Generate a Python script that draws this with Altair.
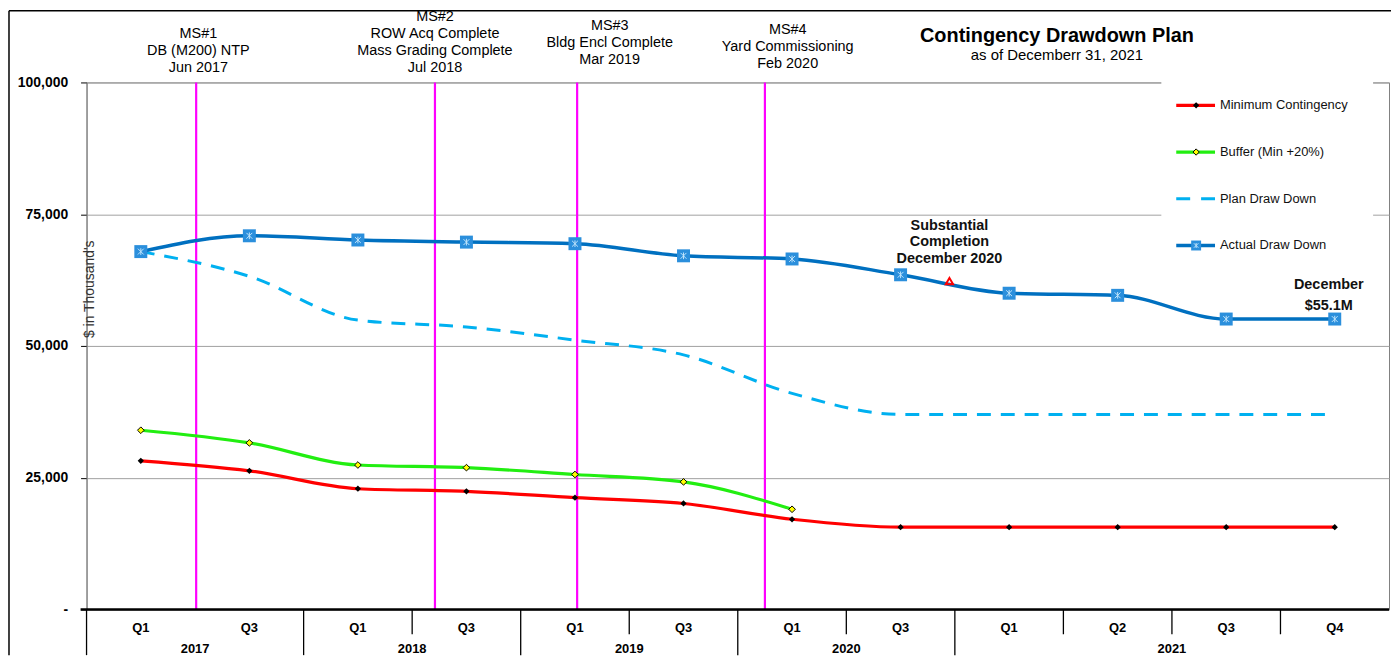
import altair as alt
import pandas as pd

FONT = "Liberation Sans"

# ---------------- data ----------------
quarters = ["Q1", "Q3", "Q1", "Q3", "Q1", "Q3", "Q1", "Q3", "Q1", "Q2", "Q3", "Q4"]
years = ["2017", "2017", "2018", "2018", "2019", "2019", "2020", "2020",
         "2021", "2021", "2021", "2021"]
actual = [67900, 70900, 70100, 69700, 69400, 67100, 66500, 63500, 60000, 59600, 55100, 55100]
plan = [67900, 63200, 54900, 53600, 51100, 48300, 41000, 37000, 37000, 37000, 37000, 37000]
minimum = [28200, 26300, 22900, 22400, 21200, 20100, 17100, 15600, 15600, 15600, 15600, 15600]
buffer = [34000, 31600, 27400, 26900, 25600, 24200, 19000, None, None, None, None, None]

milestone_labels = [
    "MS#1\nDB (M200) NTP\nJun 2017",
    "MS#2\nROW Acq Complete\nMass Grading Complete\nJul 2018",
    "MS#3\nBldg Encl Complete\nMar 2019",
    "MS#4\nYard Commissioning\nFeb 2020",
]
milestone_x = [0.51, 2.71, 4.02, 5.75]       # date of milestone on the quarter axis
milestone_text_x = [0.53, 2.71, 4.32, 5.96]
milestone_text_y = [-56, -73, -64, -60]

legend_labels = ["Minimum Contingency", "Buffer (Min +20%)", "Plan Draw Down", "Actual Draw Down"]

title = "Contingency Drawdown Plan"
subtitle = "as of Decemberr 31, 2021"
sc_label = "Substantial\nCompletion\nDecember  2020"
sc_x = 7.45
sc_value = 62300
end_label = "December\n$55.1M"

# ---------------- frames ----------------
n = len(quarters)
df = pd.DataFrame({
    "i": list(range(n)),
    "quarter": quarters,
    "year": years,
    "actual": actual,
    "plan": plan,
    "minimum": minimum,
    "buffer": buffer,
})

groups = []
for i, y in enumerate(years):
    if not groups or groups[-1]["year"] != y:
        groups.append({"year": y, "start": i, "end": i})
    else:
        groups[-1]["end"] = i
year_df = pd.DataFrame({
    "year": [g["year"] for g in groups],
    "center": [(g["start"] + g["end"]) / 2 for g in groups],
    "left": [g["start"] - 0.5 for g in groups],
})
qdiv = [i + 0.5 for i in range(n - 1)
        if years[i] == years[i + 1] and years[i] != "2017"]
qdiv_df = pd.DataFrame({"x": qdiv})

ms_df = pd.DataFrame({
    "label": milestone_labels,
    "x": milestone_x,
    "tx": milestone_text_x,
    "ty": milestone_text_y,
})
leg_df = pd.DataFrame({"label": legend_labels, "k": list(range(len(legend_labels)))})

W, H = 1310, 530
xs = alt.Scale(domain=[-0.5, n - 0.5], nice=False, zero=False)
ys = alt.Scale(domain=[0, 100000], nice=False)
YAX = alt.Axis(
    values=[0, 25000, 50000, 75000, 100000],
    labelExpr="datum.value == 0 ? '-' : format(datum.value, ',')",
    labelFont=FONT, labelFontSize=14, labelFontWeight="bold", labelColor="black",
    tickColor="black", tickSize=6, labelPadding=13,
    domainColor="#808080", gridColor="#a0a0a0", grid=True, title=None,
)


def X(f):
    return alt.X(f, type="quantitative", scale=xs, axis=None)


def Y(f):
    return alt.Y(f, type="quantitative", scale=ys, axis=YAX)


base = alt.Chart(df)

# milestone rules
ms_rules = alt.Chart(ms_df).mark_rule(color="#ff00ff", strokeWidth=2.2).encode(
    x=X("x"), y=alt.value(0), y2=alt.value(H)
)
ms_text = alt.Chart(ms_df).mark_text(
    font=FONT, fontSize=14.5, lineHeight=17, baseline="top", align="center",
    lineBreak="\n", color="black"
).encode(x=X("tx"), y=alt.Y("ty:Q", scale=None), text="label:N")

# series
plan_line = base.mark_line(color="#00b0f0", strokeWidth=3, strokeDash=[14, 10],
                           interpolate="monotone").encode(x=X("i"), y=Y("plan"))
min_line = base.mark_line(color="#ff0000", strokeWidth=3.2,
                          interpolate="monotone").encode(x=X("i"), y=Y("minimum"))
min_pts = base.mark_point(shape="diamond", filled=True, color="black", size=40,
                          opacity=1).encode(x=X("i"), y=Y("minimum"))
buf_base = base.transform_filter("isValid(datum.buffer)")
buf_line = buf_base.mark_line(color="#22ee11", strokeWidth=3.2,
                              interpolate="monotone").encode(x=X("i"), y=Y("buffer"))
buf_pts = buf_base.mark_point(shape="diamond", filled=True, fill="#ffff00", stroke="black",
                              strokeWidth=1, size=45, opacity=1).encode(x=X("i"), y=Y("buffer"))
act_line = base.mark_line(color="#0070c0", strokeWidth=3.5,
                          interpolate="monotone").encode(x=X("i"), y=Y("actual"))
act_pts = base.mark_point(shape="square", filled=True, color="#2b8fdc", size=170,
                          opacity=1).encode(x=X("i"), y=Y("actual"))
XGLYPH = "M-0.7,-0.7L0.7,0.7M0.7,-0.7L-0.7,0.7M0,-0.8L0,0.8"
act_glyph = base.mark_point(shape=XGLYPH, filled=False, stroke="#bfe4fb", strokeWidth=1,
                            size=70, opacity=1).encode(x=X("i"), y=Y("actual"))

# bottom axis: black base line, dividers and labels
base_line = base.mark_rule(color="black", strokeWidth=2.5).encode(
    x=alt.value(-6), x2=alt.value(W), y=alt.value(H)
).transform_filter("datum.i == 0")
year_rules = alt.Chart(year_df).mark_rule(color="black", strokeWidth=1.3).encode(
    x=X("left"), y=alt.value(H), y2=alt.value(H + 46)
)
q_rules = alt.Chart(qdiv_df).mark_rule(color="black", strokeWidth=1.3).encode(
    x=X("x"), y=alt.value(H), y2=alt.value(H + 25)
)
q_text = base.mark_text(font=FONT, fontSize=13, fontWeight="bold", color="black",
                        baseline="middle").encode(
    x=X("i"), y=alt.value(H + 19), text="quarter:N"
)
y_text = alt.Chart(year_df).mark_text(font=FONT, fontSize=13, fontWeight="bold", color="black",
                                      baseline="middle").encode(
    x=X("center"), y=alt.value(H + 40), text="year:N"
)

# titles and annotations
title_df = pd.DataFrame({"t": [title], "s": [subtitle]})
title_text = alt.Chart(title_df).mark_text(font=FONT, fontSize=20, fontWeight="bold",
                                           color="black", baseline="middle").encode(
    x=alt.value(976), y=alt.value(-47), text="t:N"
)
sub_text = alt.Chart(title_df).mark_text(font=FONT, fontSize=15, color="black",
                                         baseline="middle").encode(
    x=alt.value(976), y=alt.value(-28), text="s:N"
)
ytitle_text = alt.Chart(pd.DataFrame({"t": ["$ in Thousand's"]})).mark_text(
    font=FONT, fontSize=14, color="#333333", angle=270, baseline="middle"
).encode(x=alt.value(4), y=alt.value(208), text="t:N")

ann_df = pd.DataFrame({"x": [sc_x], "v": [sc_value], "t": [sc_label]})
sc_text = alt.Chart(ann_df).mark_text(font=FONT, fontSize=14.5, fontWeight="bold",
                                      lineHeight=17, lineBreak="\n", color="#111111",
                                      baseline="top").encode(
    x=X("x"), y=alt.value(137), text="t:N"
)
sc_tri = alt.Chart(ann_df).mark_point(shape="triangle-up", filled=False, stroke="#ff0000",
                                      strokeWidth=2, size=55, opacity=1).encode(
    x=X("x"), y=Y("v")
)
end_df = pd.DataFrame({"x": [n - 1], "t": [end_label]})
end_text = alt.Chart(end_df).mark_text(font=FONT, fontSize=14.5, fontWeight="bold",
                                       lineHeight=21, lineBreak="\n", color="#111111",
                                       baseline="top", dx=-6).encode(
    x=X("x"), y=alt.value(197), text="t:N"
)

# legend (drawn by hand in a white box)
leg = alt.Chart(leg_df).transform_calculate(ly="23 + datum.k * 47")
leg_box = alt.Chart(title_df).mark_rect(color="white").encode(
    x=alt.value(1081), x2=alt.value(1294), y=alt.value(-1), y2=alt.value(186)
)
LY = alt.Y("ly:Q", scale=None)
leg_min = leg.transform_filter("datum.k == 0").mark_rule(color="#ff0000", strokeWidth=3.2).encode(
    x=alt.value(1096), x2=alt.value(1135), y=LY)
leg_min_pt = leg.transform_filter("datum.k == 0").mark_point(
    shape="diamond", filled=True, color="black", size=40, opacity=1).encode(x=alt.value(1116), y=LY)
leg_buf = leg.transform_filter("datum.k == 1").mark_rule(color="#22ee11", strokeWidth=3.2).encode(
    x=alt.value(1096), x2=alt.value(1135), y=LY)
leg_buf_pt = leg.transform_filter("datum.k == 1").mark_point(
    shape="diamond", filled=True, fill="#ffff00", stroke="black", strokeWidth=1, size=40,
    opacity=1).encode(x=alt.value(1116), y=LY)
leg_plan = leg.transform_filter("datum.k == 2").mark_rule(
    color="#00b0f0", strokeWidth=3.2, strokeDash=[14, 11]).encode(
    x=alt.value(1096), x2=alt.value(1135), y=LY)
leg_act = leg.transform_filter("datum.k == 3").mark_rule(color="#0070c0", strokeWidth=3.5).encode(
    x=alt.value(1096), x2=alt.value(1135), y=LY)
leg_act_pt = leg.transform_filter("datum.k == 3").mark_point(
    shape="square", filled=True, color="#2b8fdc", size=100, opacity=1).encode(x=alt.value(1116), y=LY)
leg_act_gl = leg.transform_filter("datum.k == 3").mark_point(
    shape=XGLYPH, filled=False, stroke="#bfe4fb", strokeWidth=1, size=40, opacity=1).encode(
    x=alt.value(1116), y=LY)
leg_text = leg.mark_text(font=FONT, fontSize=13, color="#111111", align="left",
                         baseline="middle").encode(x=alt.value(1140), y=LY, text="label:N")

# outer frame (inside the svg)
frame_top = alt.Chart(title_df).mark_rule(color="black", strokeWidth=1.5).encode(
    x=alt.value(-78), x2=alt.value(W + 2), y=alt.value(-72))
frame_left = alt.Chart(title_df).mark_rule(color="black", strokeWidth=1.5).encode(
    x=alt.value(-78), y=alt.value(-72), y2=alt.value(H + 46))

chart = alt.layer(
    ms_rules,
    plan_line, buf_line, min_line, min_pts, buf_pts, act_line, act_pts, act_glyph,
    sc_tri, sc_text, end_text,
    leg_box, leg_min, leg_min_pt, leg_buf, leg_buf_pt, leg_plan, leg_act, leg_act_pt,
    leg_act_gl, leg_text,
    base_line, year_rules, q_rules, q_text, y_text,
    ms_text, title_text, sub_text, ytitle_text, frame_top, frame_left,
).properties(
    width=W, height=H,
    autosize=alt.AutoSizeParams(type="none"),
    padding={"left": 79, "top": 73, "right": 2, "bottom": 46},
    background="white",
).configure_view(stroke="#808080", strokeWidth=1)

chart.save("out.html", embed_options={"renderer": "svg", "actions": False})
